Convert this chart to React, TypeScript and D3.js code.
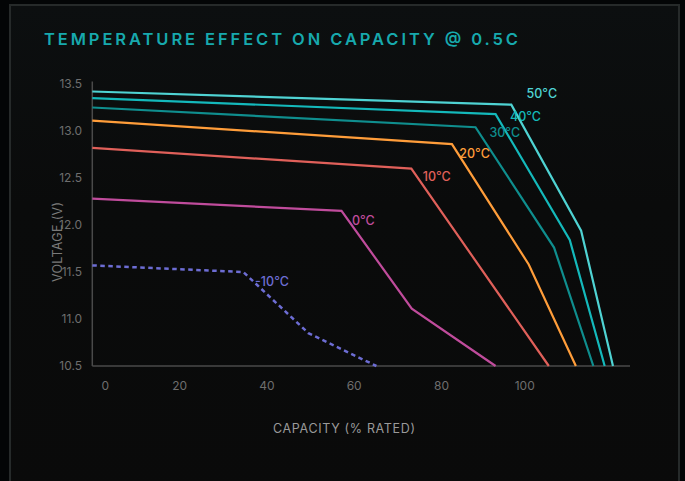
import React from "react";
import * as d3 from "d3";

type Pt = [number, number];

const xTicks = [0, 20, 40, 60, 80, 100];
const yTicks = [10.5, 11.0, 11.5, 12.0, 12.5, 13.0, 13.5];

const seriesNames = ["50°C", "40°C", "30°C", "20°C", "10°C", "0°C", "-10°C"];
const seriesColors = ["#4fd3d3", "#14b9bb", "#0f8e8e", "#ff9d3a", "#e0605a", "#c04c9c", "#6d6dd4"];

const s50: Pt[] = [[0, 13.42], [96, 13.28], [112, 11.94], [119.3, 10.5]];
const s40: Pt[] = [[0, 13.35], [92.4, 13.18], [109.4, 11.84], [117.4, 10.5]];
const s30: Pt[] = [[0, 13.25], [87.8, 13.04], [105.8, 11.76], [114.8, 10.5]];
const s20: Pt[] = [[0, 13.11], [82.4, 12.86], [100, 11.58], [110.8, 10.5]];
const s10: Pt[] = [[0, 12.82], [73.1, 12.6], [104.6, 10.5]];
const s0: Pt[] = [[0, 12.28], [57.1, 12.15], [73.2, 11.11], [92.4, 10.5]];
const sMinus10: Pt[] = [[0, 11.57], [34.6, 11.5], [49.5, 10.85], [65.1, 10.5]];

const seriesData = [s50, s40, s30, s20, s10, s0, sMinus10];
const seriesDashed = [false, false, false, false, false, false, true];

// label anchor positions (data units)
const labelX = [99.5, 95.7, 91.0, 84.1, 75.7, 59.5, 37.3];
const labelY = [13.4, 13.15, 12.98, 12.76, 12.51, 12.05, 11.4];

export default function App() {
  const W = 685;
  const H = 481;
  const x = d3.scaleLinear().domain([0, 123.2]).range([92.3, 630]);
  const y = d3.scaleLinear().domain([10.5, 13.5]).range([366, 84]);
  const line = d3
    .line<Pt>()
    .x((d) => x(d[0]))
    .y((d) => y(d[1]));

  const font = "Inter, 'Noto Sans', sans-serif";
  const tickLabelDx = (v: number, i: number) =>
    i === 0 ? 13 : i === xTicks.length - 1 ? -4 : 0;

  return (
    <div
      style={{
        position: "absolute",
        left: 0,
        top: 0,
        width: W,
        height: H,
        background: "#030506",
        overflow: "hidden",
      }}
    >
      <svg width={W} height={H} style={{ display: "block" }}>
        <defs>
          <linearGradient id="cardbg" x1="0" y1="0" x2="0" y2="1">
            <stop offset="0" stopColor="#0c0f10" />
            <stop offset="0.4" stopColor="#0a0b0b" />
            <stop offset="1" stopColor="#0a0a0a" />
          </linearGradient>
        </defs>
        <rect x={10} y={5} width={669} height={500} fill="url(#cardbg)" stroke="#262a2a" strokeWidth={2} />

        <text
          x={44}
          y={44.5}
          fill="#17a9ad"
          fontFamily={font}
          fontSize={16.5}
          fontWeight={600}
          textLength={474}
          lengthAdjust="spacing"
        >
          TEMPERATURE EFFECT ON CAPACITY @ 0.5C
        </text>

        {/* axes */}
        <line x1={x(0)} x2={x(0)} y1={y(13.5) - 2.5} y2={y(10.5)} stroke="#4a4a4a" strokeWidth={1.5} />
        <line x1={x(0)} x2={630} y1={y(10.5)} y2={y(10.5)} stroke="#4a4a4a" strokeWidth={1.5} />

        {yTicks.map((v) => (
          <text
            key={"y" + v}
            x={82}
            y={y(v)}
            dy="0.35em"
            textAnchor="end"
            fill="#6e6e6e"
            fontFamily={font}
            fontSize={12}
          >
            {v.toFixed(1)}
          </text>
        ))}
        {xTicks.map((v, i) => (
          <text
            key={"x" + v}
            x={x(v) + tickLabelDx(v, i)}
            y={386}
            dy="0.35em"
            textAnchor="middle"
            fill="#6e6e6e"
            fontFamily={font}
            fontSize={12}
          >
            {v}
          </text>
        ))}

        <text
          x={344}
          y={429}
          dy="0.35em"
          textAnchor="middle"
          fill="#9a9a9a"
          fontFamily={font}
          fontSize={12.5}
          textLength={142}
          lengthAdjust="spacing"
        >
          CAPACITY (% RATED)
        </text>
        <text
          transform="translate(58,242) rotate(-90)"
          textAnchor="middle"
          dy="0.35em"
          fill="#7a7a7a"
          fontFamily={font}
          fontSize={12.5}
          textLength={80}
          lengthAdjust="spacing"
        >
          VOLTAGE (V)
        </text>

        {seriesData.map((d, i) => (
          <path
            key={"s" + i}
            d={line(d) || ""}
            fill="none"
            stroke={seriesColors[i]}
            strokeWidth={seriesDashed[i] ? 2.5 : 2.2}
            strokeDasharray={seriesDashed[i] ? "4.5 3.5" : undefined}
            strokeLinejoin="miter"
          />
        ))}
        {seriesNames.map((n, i) => (
          <text
            key={"l" + i}
            x={x(labelX[i])}
            y={y(labelY[i])}
            dy="0.35em"
            fill={seriesColors[i]}
            fontFamily={font}
            fontSize={12.5}
            fontWeight={500}
          >
            {n}
          </text>
        ))}
      </svg>
    </div>
  );
}
